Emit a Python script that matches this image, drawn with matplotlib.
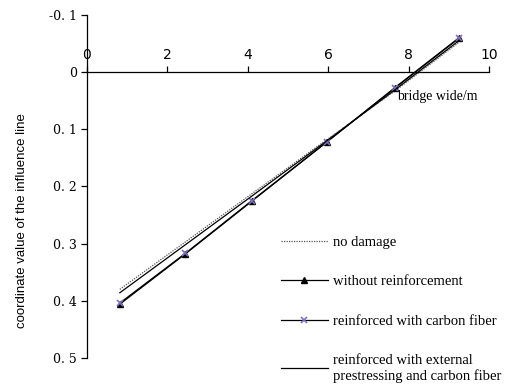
import matplotlib.pyplot as plt

x = [0.82, 2.45, 4.1, 5.97, 7.66, 9.25]
no_damage = [0.380, 0.297, 0.213, 0.118, 0.033, -0.052]
without_reinf = [0.406, 0.318, 0.226, 0.122, 0.027, -0.060]
carbon_fiber = [0.404, 0.317, 0.225, 0.122, 0.028, -0.059]
external_cf = [0.386, 0.302, 0.217, 0.120, 0.031, -0.055]

labels = ["no damage", "without reinforcement", "reinforced with carbon fiber",
          "reinforced with external\nprestressing and carbon fiber"]
yticks = [-0.1, 0, 0.1, 0.2, 0.3, 0.4, 0.5]
ytick_labels = ["-0. 1", "0", "0. 1", "0. 2", "0. 3", "0. 4", "0. 5"]
xticks = [0, 2, 4, 6, 8, 10]

fig = plt.figure(figsize=(5.11, 3.84), dpi=100)
ax = fig.add_axes([0.170, 0.068, 0.787, 0.893])

ax.plot(x, no_damage, color="#555555", lw=0.9, ls=(0, (1, 1)), label=labels[0])
ax.plot(x, without_reinf, color="black", lw=0.9, marker="^", ms=4, label=labels[1])
ax.plot(x, carbon_fiber, color="black", lw=0.9, marker="x", ms=5, mec="#8070c0",
        mew=1.2, label=labels[2])
ax.plot(x, external_cf, color="black", lw=0.9, label=labels[3])

ax.set_xlim(0, 10)
ax.set_ylim(0.5, -0.1)
ax.set_yticks(yticks)
ax.set_yticklabels(ytick_labels, family="DejaVu Serif", fontsize=9)
ax.set_xticks(xticks)
ax.set_xticklabels([str(t) for t in xticks], family="DejaVu Serif", fontsize=9)

ax.xaxis.set_ticks_position("top")
ax.spines["top"].set_position(("data", 0))
ax.spines["right"].set_visible(False)
ax.spines["bottom"].set_visible(False)
for s in ["left", "top"]:
    ax.spines[s].set_linewidth(0.9)
ax.tick_params(axis="both", direction="out", length=4, width=0.9, pad=3)

ax.set_ylabel("coordinate value of the influence line", family="Liberation Sans",
              fontsize=9.5)
ax.yaxis.set_label_coords(-0.147, 0.40)
ax.text(7.72, 0.042, "bridge wide/m", family="Liberation Serif", fontsize=10,
        ha="left", va="center")

leg = ax.legend(loc="upper left", bbox_to_anchor=(0.45, 0.395), frameon=False,
                prop={"family": "Liberation Serif", "size": 10.5},
                handlelength=3.2, handletextpad=0.4, labelspacing=1.8)

fig.savefig("out.png", dpi=100)
